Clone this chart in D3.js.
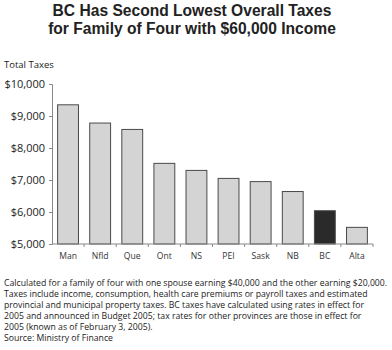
<!DOCTYPE html>
<html><head><meta charset="utf-8">
<script src="https://cdn.jsdelivr.net/npm/d3@7"></script>
<style>body{margin:0;background:#fff}svg{display:block}</style>
</head><body>
<script>
const categories = ["Man","Nfld","Que","Ont","NS","PEI","Sask","NB","BC","Alta"];
const values = [9350,8780,8580,7520,7300,7050,6950,6640,6040,5520];
const yTicks = [5000,6000,7000,8000,9000,10000];
const titleLines = ["BC Has Second Lowest Overall Taxes","for Family of Four with $60,000 Income"];
const footLines = [
 "Calculated for a family of four with one spouse earning $40,000 and the other earning $20,000.",
 "Taxes include income, consumption, health care premiums or payroll taxes and estimated",
 "provincial and municipal property taxes.  BC taxes have calculated using rates in effect for",
 "2005 and announced in Budget 2005; tax rates for other provinces are those in effect for",
 "2005 (known as of February 3, 2005).",
 "Source:  Ministry of Finance"];
const highlight = "BC";

const W=392,H=350;
const svg=d3.select("body").append("svg").attr("width",W).attr("height",H);
const font="'Open Sans', sans-serif";

svg.selectAll("text.title").data(titleLines).join("text")
 .attr("x",192).attr("y",(d,i)=>16+i*18).attr("text-anchor","middle")
 .attr("font-family","Liberation Sans, Arial, sans-serif").attr("font-weight","bold")
 .attr("font-size",15.6).attr("fill","#222").text(d=>d);

svg.append("text").attr("x",4).attr("y",68).attr("font-family",font).attr("font-size",9.5).attr("fill","#222").text("Total Taxes");

const x=d3.scaleBand().domain(categories).range([52,373]).paddingInner(0.35).paddingOuter(0.175);
const y=d3.scaleLinear().domain([5000,10000]).range([244,84]);

const yAx=svg.append("g").attr("transform","translate(52,0)")
 .call(d3.axisLeft(y).tickValues(yTicks).tickSize(3).tickPadding(4).tickFormat(d=>"$"+d3.format(",")(d)));
yAx.selectAll("text").attr("font-family",font).attr("font-size",11).attr("fill","#222");
yAx.selectAll("line,path").attr("stroke","#888");

svg.append("g").selectAll("rect").data(categories).join("rect")
 .attr("x",d=>x(d)).attr("width",x.bandwidth())
 .attr("y",(d,i)=>y(values[i])).attr("height",(d,i)=>y(5000)-y(values[i]))
 .attr("fill",d=>d===highlight?"#2a2a2a":"#d4d4d4").attr("stroke","#4a4a4a").attr("stroke-width",1);

const step=x.step();
const xAx=svg.append("g").attr("transform","translate(0,244)");
xAx.append("line").attr("x1",52).attr("x2",373).attr("stroke","#888");
xAx.selectAll("line.t").data(d3.range(1,categories.length+1)).join("line")
 .attr("x1",i=>52+i*step).attr("x2",i=>52+i*step).attr("y1",0).attr("y2",3).attr("stroke","#888");
xAx.selectAll("text").data(categories).join("text")
 .attr("x",d=>x(d)+x.bandwidth()/2).attr("y",15).attr("text-anchor","middle")
 .attr("font-family",font).attr("font-size",8.6).attr("fill","#333").text(d=>d);

svg.selectAll("text.foot").data(footLines).join("text")
 .attr("x",4).attr("y",(d,i)=>286+i*11).attr("font-family",font).attr("font-size",8.7).attr("fill","#222").text(d=>d);
</script>
</body></html>
